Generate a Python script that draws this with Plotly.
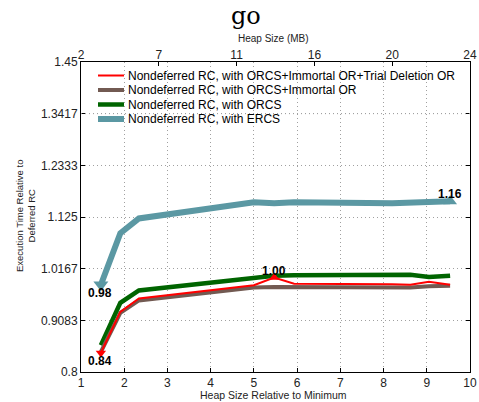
import plotly.graph_objects as go

# ---- data ----
heap_rel = [1.46, 1.91, 2.34, 4.6, 5.0, 5.47, 5.93, 8.2, 8.62, 9.05, 9.54]
series_names = [
    "Nondeferred RC, with ORCS+Immortal OR+Trial Deletion OR",
    "Nondeferred RC, with ORCS+Immortal OR",
    "Nondeferred RC, with ORCS",
    "Nondeferred RC, with ERCS",
]
trial_deletion = [0.840, 0.926, 0.954, 0.978, 0.982, 0.998, 0.985, 0.984, 0.983, 0.989, 0.983]
immortal = [0.842, 0.924, 0.950, 0.974, 0.977, 0.978, 0.978, 0.977, 0.977, 0.980, 0.981]
orcs = [0.856, 0.945, 0.971, 0.995, 0.999, 1.002, 1.003, 1.003, 1.004, 0.999, 1.002]
ercs = [0.983, 1.091, 1.122, 1.149, 1.156, 1.154, 1.156, 1.154, 1.155, 1.156, 1.158]

y_tick_vals = [0.8, 0.9083, 1.0167, 1.125, 1.2333, 1.3417, 1.45]
y_tick_text = ["0.8", "0.9083", "1.0167", "1.125", "1.2333", "1.3417", "1.45"]
x_tick_vals = [1, 2, 3, 4, 5, 6, 7, 8, 9, 10]
mb_tick_pos = [1, 2.8, 4.6, 6.4, 8.2, 10]
mb_tick_text = ["2", "7", "11", "16", "20", "24"]

# ---- styles ----
W, H = 479, 402
L, R, T, B = 81, 9, 62, 30
colors = ["#ff0000", "#725a52", "#006400", "#5b98a3"]
widths = [2, 4, 4.5, 6]
FONT = "Liberation Sans, Arial, sans-serif"

def px_x(p):
    return (p - L) / (W - L - R)

def px_y(p):
    return (H - B - p) / (H - T - B)

series = [trial_deletion, immortal, orcs, ercs]

fig = go.Figure()
# draw order: ERCS, ORCS, Immortal, Trial deletion (red on top)
for i in [3, 2, 1, 0]:
    fig.add_trace(go.Scatter(
        x=heap_rel, y=series[i], mode="lines", name=series_names[i],
        line=dict(color=colors[i], width=widths[i]),
        showlegend=False, xaxis="x", yaxis="y"))

# min/max markers + labels for Trial deletion and ERCS
ann = []
for i, msize_min, msize_max in [(0, 9, 9), (3, 13, 12)]:
    ys = series[i]
    imin = ys.index(min(ys))
    imax = ys.index(max(ys))
    fig.add_trace(go.Scatter(
        x=[heap_rel[imin]], y=[ys[imin]], mode="markers", showlegend=False,
        marker=dict(symbol="triangle-down", size=msize_min, color=colors[i])))
    fig.add_trace(go.Scatter(
        x=[heap_rel[imax]], y=[ys[imax]], mode="markers", showlegend=False,
        marker=dict(symbol="triangle-up", size=msize_max, color=colors[i])))
    ann.append(dict(x=heap_rel[imin], y=ys[imin], xref="x", yref="y",
                    text="<b>%.2f</b>" % ys[imin], showarrow=False,
                    xanchor="center", yanchor="middle",
                    yshift=-8, xshift=-1,
                    font=dict(family=FONT, size=12, color="black")))
    ann.append(dict(x=heap_rel[imax], y=ys[imax], xref="x", yref="y",
                    text="<b>%.2f</b>" % ys[imax], showarrow=False,
                    xanchor="center", yanchor="middle",
                    yshift=7,
                    font=dict(family=FONT, size=12, color="black")))

# top axis dummy trace
fig.add_trace(go.Scatter(x=[1, 10], y=[0.8, 0.8], mode="markers",
                         marker=dict(opacity=0), showlegend=False,
                         hoverinfo="skip", xaxis="x2", yaxis="y"))

shapes = []
# legend background
shapes.append(dict(type="rect", xref="paper", yref="paper",
                   x0=px_x(88), x1=px_x(469), y0=px_y(131), y1=px_y(63.5),
                   fillcolor="white", line=dict(width=0), layer="between"))
# gridline running across legend (as in reference)
shapes.append(dict(type="line", xref="paper", yref="y",
                   x0=0, x1=1, y0=1.3417, y1=1.3417,
                   line=dict(color="#a0a0a0", width=1, dash="1px,3px"), layer="above"))
row_y = [75.5, 90, 104.5, 119]
for i in range(4):
    shapes.append(dict(type="line", xref="paper", yref="paper",
                       x0=px_x(98), x1=px_x(124), y0=px_y(row_y[i]), y1=px_y(row_y[i]),
                       line=dict(color=colors[i], width=widths[i]), layer="above"))
    ann.append(dict(x=px_x(126), y=px_y(row_y[i]), xref="paper", yref="paper",
                    xanchor="left", yanchor="middle", text=series_names[i],
                    showarrow=False, font=dict(family=FONT, size=12, color="black")))

# titles
ann.append(dict(x=px_x(246), y=px_y(16), xref="paper", yref="paper",
                xanchor="center", yanchor="middle",
                text="go", showarrow=False,
                font=dict(family="DejaVu Serif, serif", size=24, color="black")))
ann.append(dict(x=px_x(273), y=px_y(39), xref="paper", yref="paper",
                xanchor="center", yanchor="middle",
                text="Heap Size (MB)", showarrow=False,
                font=dict(family=FONT, size=10, color="#222")))
ann.append(dict(x=px_x(273), y=px_y(394.5), xref="paper", yref="paper",
                xanchor="center", yanchor="middle",
                text="Heap Size Relative to Minimum", showarrow=False,
                font=dict(family=FONT, size=10.5, color="#222")))
ann.append(dict(x=px_x(25), y=px_y(216), xref="paper", yref="paper",
                xanchor="center", yanchor="middle",
                text="Execution Time Relative to<br>Deferred RC", showarrow=False,
                textangle=-90, font=dict(family=FONT, size=9.5, color="#222")))

grid = dict(showgrid=True, gridcolor="#a0a0a0", gridwidth=1, griddash="1px,3px")
fig.update_layout(
    width=W, height=H,
    margin=dict(l=L, r=R, t=T, b=B, pad=0, autoexpand=False),
    paper_bgcolor="white", plot_bgcolor="white",
    showlegend=False,
    font=dict(family=FONT, size=12, color="#222"),
    xaxis=dict(range=[1, 10], tickvals=x_tick_vals, ticks="inside", ticklen=4,
               tickcolor="black", showline=True, linecolor="black", linewidth=1,
               mirror=True, zeroline=False, tickfont=dict(size=12),
               ticklabelstandoff=0,
               automargin=False, **grid),
    xaxis2=dict(range=[1, 10], overlaying="x", side="top", tickvals=mb_tick_pos,
                ticktext=mb_tick_text, ticks="inside", ticklen=4, tickcolor="black",
                showgrid=False, zeroline=False, showline=False,
                tickfont=dict(size=12), automargin=False),
    yaxis=dict(range=[0.8, 1.45], tickvals=y_tick_vals, ticktext=y_tick_text,
               ticks="inside", ticklen=4, tickcolor="black", showline=True,
               linecolor="black", linewidth=1, mirror="ticks", zeroline=False,
               tickfont=dict(size=12), automargin=False, **grid),
    shapes=shapes,
    annotations=ann,
)

fig.write_html("out.html", config={"displayModeBar": False},
               post_script="document.body.style.margin='0';document.body.style.overflow='hidden';")
